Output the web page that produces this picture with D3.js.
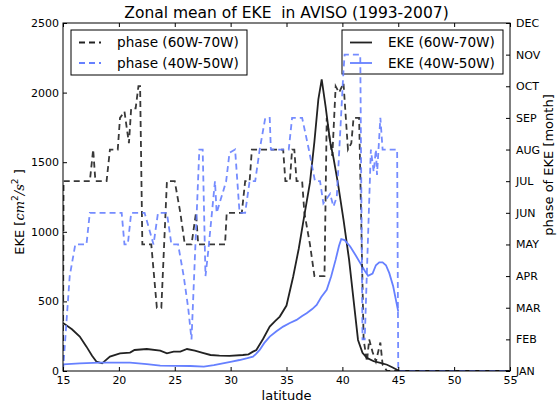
<!DOCTYPE html>
<html>
<head>
<meta charset="utf-8">
<script src="https://cdn.jsdelivr.net/npm/d3@7"></script>
<style>
  body { margin: 0; background: #fff; }
  svg { font-family: "DejaVu Sans", sans-serif; }
</style>
</head>
<body>
<div class="chart"></div>
<script>
// EKE, 60W-70W (cm2/s2)
const ekeLatA = [15, 15.8, 16.5, 17.1, 17.6, 18.0, 18.5, 19.2, 20.1, 21.0, 21.4, 22.5, 23.7, 24.3, 24.9, 25.5, 26.1, 26.8, 27.5, 28.2, 29.0, 29.9, 31.1, 31.6, 32.0, 32.3, 32.9, 33.5, 34.0, 34.4, 35.0, 35.6, 36.1, 36.6, 37.1, 37.5, 37.85, 38.15, 38.5, 38.9, 39.2, 39.6, 40.1, 40.6, 41.0, 41.4, 41.8, 42.2, 42.8, 43.4, 44.0, 44.5, 45.1, 50, 55];
const ekeA = [345, 300, 247, 175, 110, 67, 55, 103, 127, 132, 151, 158, 146, 127, 139, 139, 158, 146, 130, 115, 110, 108, 115, 120, 139, 151, 230, 319, 360, 391, 470, 679, 880, 1120, 1353, 1650, 1951, 2095, 1900, 1650, 1533, 1350, 1087, 800, 511, 223, 130, 94, 70, 58, 45, 25, 0, 0, 0];

// EKE, 40W-50W
const ekeLatB = [15, 16.5, 18.3, 21, 22.5, 23.7, 25, 26.4, 27.6, 28.5, 29.3, 30.1, 30.8, 31.5, 32.0, 32.3, 32.6, 33.0, 33.5, 34.1, 34.7, 35.3, 35.9, 36.4, 36.8, 37.3, 37.7, 38.1, 38.6, 39.0, 39.4, 39.7, 39.9, 40.2, 40.7, 41.2, 41.6, 42.0, 42.3, 42.7, 43.0, 43.3, 43.6, 43.9, 44.2, 44.55, 45.0];
const ekeB = [48, 55, 60, 60, 50, 38, 37, 36, 31, 42, 55, 68, 79, 92, 103, 125, 151, 200, 247, 285, 319, 345, 367, 395, 415, 445, 475, 530, 583, 680, 800, 900, 948, 940, 895, 830, 775, 720, 684, 700, 760, 780, 780, 760, 703, 607, 427];

// phase of EKE (month index, 0 = JAN), 60W-70W
const phaseLatA = [15.0, 15.05, 17.4, 17.7, 17.9, 18.9, 19.2, 19.9, 20.1, 20.5, 20.9, 21.1, 21.5, 21.75, 21.9, 22.1, 22.9, 23.4, 23.8, 24.3, 25.0, 25.5, 25.9, 26.5, 26.9, 27.1, 29.5, 29.65, 31.0, 31.3, 31.7, 31.9, 34.7, 34.9, 35.3, 35.5, 35.7, 35.9, 36.4, 36.6, 37.1, 37.5, 38.4, 38.6, 38.8, 39.1, 39.4, 39.7, 40.1, 40.5, 40.8, 41.0, 41.5, 41.9, 42.2, 42.4, 42.7, 43.0, 43.4, 43.6, 44.0, 55];
const phaseA = [0, 6, 6, 7, 6, 6, 7, 7, 8, 8.2, 7.2, 8.3, 8.3, 9, 9, 4, 4, 2, 2, 6, 6, 5, 4, 4, 5, 4, 4, 5, 5, 6, 6, 7, 7, 6, 6, 7, 7, 6, 6, 5, 4, 3, 3, 8, 7.5, 6.8, 9, 8.8, 9.1, 7, 7.2, 8, 8, 1, 0.3, 1, 0.6, 0.3, 0.9, 0.2, 0, 0];

// phase of EKE, 40W-50W
const phaseLatB = [15.0, 15.6, 16.1, 17.1, 17.4, 20.25, 20.5, 20.8, 21.1, 22.3, 23.1, 23.5, 24.3, 24.7, 25.3, 25.8, 26.2, 26.5, 27.2, 27.5, 27.75, 28.0, 28.6, 28.75, 29.35, 29.6, 29.9, 30.4, 30.8, 31.3, 31.7, 32.2, 32.6, 33.1, 33.5, 33.6, 35.2, 35.5, 36.4, 37.0, 37.55, 38.0, 38.3, 38.9, 39.2, 39.5, 40.1, 40.2, 41.6, 41.8, 42.0, 42.55, 42.8, 43.0, 43.1, 43.4, 43.6, 44.9, 45.0, 55];
const phaseB = [0, 3, 4, 4, 5, 5, 4, 4, 5, 5, 4, 5, 5, 4, 4, 3, 2, 1, 7, 7, 3, 3.8, 6, 5, 5.7, 6, 6.9, 7, 5, 5, 6, 6, 7, 8, 8, 7, 7, 8, 8, 7, 6, 6, 5.3, 5.6, 5.2, 5.5, 9.5, 10, 10, 1, 1, 7, 6.3, 7, 6.2, 8, 7, 7, 0, 0];

const latTicks = [15, 20, 25, 30, 35, 40, 45, 50, 55];
const ekeTicks = [0, 500, 1000, 1500, 2000, 2500];
const monthLabels = ['JAN', 'FEB', 'MAR', 'APR', 'MAY', 'JUN', 'JUL', 'AUG', 'SEP', 'OCT', 'NOV', 'DEC'];

const black = '#222';
const blue = '#6680ff';

const margin = { top: 23, right: 48, bottom: 34, left: 63 };
const outerWidth = 558;
const outerHeight = 405;
const innerWidth = outerWidth - margin.left - margin.right;
const innerHeight = outerHeight - margin.top - margin.bottom;

const svg = d3.select('.chart')
  .append('svg')
    .attr('width', outerWidth)
    .attr('height', outerHeight);

// clip region for the curves (kept in defs, in chart coordinates)
svg.append('defs')
  .append('clipPath')
    .attr('id', 'plot-clip')
  .append('rect')
    .attr('width', innerWidth)
    .attr('height', innerHeight);

const chartG = svg.append('g')
  .attr('transform', `translate(${margin.left},${margin.top})`);

const x = d3.scaleLinear().domain([15, 55]).range([0, innerWidth]);
const yEke = d3.scaleLinear().domain([0, 2500]).range([innerHeight, 0]);
const yPhase = d3.scaleLinear().domain([0, 11]).range([innerHeight, 0]);

const zip = (xs, ys) => xs.map((d, i) => [d, ys[i]]);

const ekeLine = d3.line().x(d => x(d[0])).y(d => yEke(d[1]));
const phaseLine = d3.line().x(d => x(d[0])).y(d => yPhase(d[1]));

// first axes: EKE curves
const ekeG = chartG.append('g').attr('clip-path', 'url(#plot-clip)');
ekeG.append('path')
  .datum(zip(ekeLatA, ekeA))
  .attr('d', ekeLine)
  .attr('fill', 'none')
  .attr('stroke', black)
  .attr('stroke-width', 1.8);
ekeG.append('path')
  .datum(zip(ekeLatB, ekeB))
  .attr('d', ekeLine)
  .attr('fill', 'none')
  .attr('stroke', blue)
  .attr('stroke-width', 1.8);

// legend box with two entries
function legend(g, items, bx, by, bw, bh) {
  const lg = g.append('g').attr('transform', `translate(${bx},${by})`);
  lg.append('rect')
    .attr('width', bw)
    .attr('height', bh)
    .attr('fill', '#fff')
    .attr('stroke', '#000')
    .attr('stroke-width', 1);
  items.forEach((it, i) => {
    const yy = 12.5 + i * 20.5;
    lg.append('line')
      .attr('x1', 8).attr('x2', 30)
      .attr('y1', yy).attr('y2', yy)
      .attr('stroke', it.color)
      .attr('stroke-width', 1.8)
      .attr('stroke-dasharray', it.dash || null);
    lg.append('text')
      .attr('x', 46)
      .attr('y', yy)
      .attr('dy', '0.36em')
      .attr('font-size', 13.6)
      .text(it.label);
  });
}

// the EKE legend sits under the phase curves
legend(chartG, [
  { label: 'EKE (60W-70W)', color: black },
  { label: 'EKE (40W-50W)', color: blue }
], 342 - margin.left, 30 - margin.top, 161, 44);

// second axes: phase curves
const phaseG = chartG.append('g').attr('clip-path', 'url(#plot-clip)');
phaseG.append('path')
  .datum(zip(phaseLatA, phaseA))
  .attr('d', phaseLine)
  .attr('fill', 'none')
  .attr('stroke', black)
  .attr('stroke-opacity', 0.9)
  .attr('stroke-width', 1.8)
  .attr('stroke-dasharray', '6,4');
phaseG.append('path')
  .datum(zip(phaseLatB, phaseB))
  .attr('d', phaseLine)
  .attr('fill', 'none')
  .attr('stroke', blue)
  .attr('stroke-opacity', 0.9)
  .attr('stroke-width', 1.8)
  .attr('stroke-dasharray', '6,4');

legend(chartG, [
  { label: 'phase (60W-70W)', color: black, dash: '6,4' },
  { label: 'phase (40W-50W)', color: blue, dash: '6,4' }
], 71 - margin.left, 30 - margin.top, 176, 45);

// axes, ticks pointing inwards as in the old matplotlib style
function styleAxis(g) {
  g.attr('font-size', 11)
    .attr('font-family', '"DejaVu Sans", sans-serif')
    .attr('fill', '#000');
  g.select('.domain').remove();
  g.selectAll('.tick line').attr('stroke', '#000');
  g.selectAll('.tick text').attr('fill', '#000');
}

chartG.append('g')
  .attr('transform', `translate(0,${innerHeight})`)
  .call(d3.axisBottom(x).tickValues(latTicks).tickSize(-4).tickPadding(5))
  .call(styleAxis);
chartG.append('g')
  .call(d3.axisTop(x).tickValues(latTicks).tickSize(-4))
  .call(styleAxis)
  .selectAll('text').remove();
chartG.append('g')
  .call(d3.axisLeft(yEke).tickValues(ekeTicks).tickFormat(d3.format('d')).tickSize(-4).tickPadding(4))
  .call(styleAxis);
chartG.append('g')
  .attr('transform', `translate(${innerWidth},0)`)
  .call(d3.axisRight(yPhase).tickValues(d3.range(12)).tickFormat(i => monthLabels[i]).tickSize(-4).tickPadding(6))
  .call(styleAxis);

chartG.append('rect')
  .attr('width', innerWidth)
  .attr('height', innerHeight)
  .attr('fill', 'none')
  .attr('stroke', '#000')
  .attr('stroke-width', 1);

// titles and labels
svg.append('text')
  .attr('x', margin.left + innerWidth / 2)
  .attr('y', 18)
  .attr('text-anchor', 'middle')
  .attr('font-size', 15.5)
  .style('white-space', 'pre')
  .text('Zonal mean of EKE  in AVISO (1993-2007)');

svg.append('text')
  .attr('x', margin.left + innerWidth / 2)
  .attr('y', 400)
  .attr('text-anchor', 'middle')
  .attr('font-size', 13)
  .text('latitude');

svg.append('text')
  .attr('transform', 'translate(553,165) rotate(-90)')
  .attr('text-anchor', 'middle')
  .attr('font-size', 13)
  .text('phase of EKE [month]');

const yLab = svg.append('text')
  .attr('transform', 'translate(24,212) rotate(-90)')
  .attr('text-anchor', 'middle')
  .attr('font-size', 13);
yLab.append('tspan').text('EKE [');
yLab.append('tspan').attr('font-family', '"DejaVu Serif", serif').attr('font-style', 'italic').text('cm');
yLab.append('tspan').attr('font-size', 9).attr('dy', -6).text('2');
yLab.append('tspan').attr('dy', 6).attr('font-family', '"DejaVu Serif", serif').attr('font-style', 'italic').text('/');
yLab.append('tspan').attr('font-family', '"DejaVu Serif", serif').attr('font-style', 'italic').text('s');
yLab.append('tspan').attr('font-size', 9).attr('dy', -6).text('2');
yLab.append('tspan').attr('dy', 6).text(' ]');
</script>
</body>
</html>
